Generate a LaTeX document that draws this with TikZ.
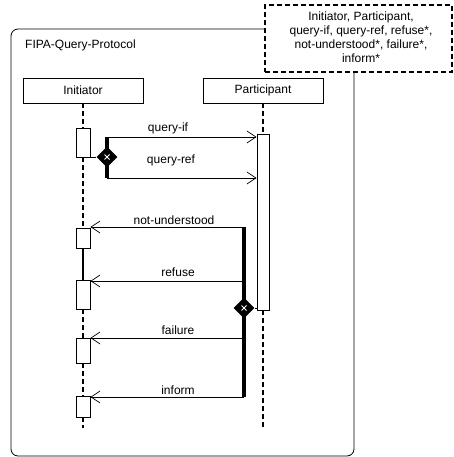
\documentclass[tikz,border=0pt]{standalone}
\usepackage{fontspec}
\setmainfont{Liberation Sans}
\usetikzlibrary{arrows.meta,shapes.geometric}
\begin{document}
\begin{tikzpicture}[x=1pt,y=-1pt,
  every node/.style={font=\fontsize{12}{14}\selectfont},
  lifebox/.style={draw,line width=0.8pt,minimum width=120pt,minimum height=25pt,inner sep=0pt},
  actbox/.style={draw,fill=white,line width=0.8pt,inner sep=0pt,minimum width=14pt},
  life/.style={line width=2pt,dash pattern=on 5pt off 3pt},
  solidlife/.style={line width=2pt},
  bar/.style={line width=3.5pt},
  msg/.style={line width=0.8pt,-{Straight Barb[length=9pt,width=12pt,line width=0.7pt]}},
  plain/.style={line width=0.8pt},
  lbl/.style={anchor=base,inner sep=0pt},
  choice/.style={diamond,fill=black,minimum size=21pt,inner sep=0pt},
  xmark/.style={white,line width=1pt},
]
\useasboundingbox (0,0) rectangle (453,457);

% frame
\draw[line width=0.8pt,rounded corners=7pt] (11,29) rectangle (354,456);
\node[anchor=base west,inner sep=0pt] (title) at (25,49) {FIPA-Query-Protocol};

% parameter box
\node[draw,fill=white,line width=1.5pt,dash pattern=on 5pt off 3pt,
      minimum width=187pt,minimum height=67pt,inner sep=0pt] (params) at (358.5,38.5) {};
\node[align=center,inner sep=0pt] (ptext) at (361,37)
  {Initiator, Participant,\\query-if, query-ref, refuse*,\\not-understood*, failure*,\\inform*};

% lifeline heads
\node[lifebox] (ini) at (83,90.5) {Initiator};
\node[lifebox] (par) at (263,90.5) {Participant};

% activation boxes
\node[actbox,minimum height=29pt] (a1) at (83,142.5) {};
\node[actbox,minimum height=20pt] (a2) at (83,238) {};
\node[actbox,minimum height=29pt] (a3) at (83,294.5) {};
\node[actbox,minimum height=25pt] (a4) at (83,350.5) {};
\node[actbox,minimum height=21pt] (a5) at (83,406.5) {};
\node[actbox,minimum width=12pt,minimum height=176pt] (p1) at (263,222) {};

% lifelines
\coordinate (iend) at (83,428);
\coordinate (pend) at (263,428);
\draw[life] (ini.south) -- (a1.north);
\draw[life] (a1.south) -- (a2.north);
\draw[solidlife] (a2.south) -- (a3.north);
\draw[life] (a3.south) -- (a4.north);
\draw[life] (a4.south) -- (a5.north);
\draw[life] (a5.south) -- (iend);
\draw[life] (par.south) -- (p1.north);
\draw[life] (p1.south) -- (pend);

% outgoing choice
\coordinate (b1top) at (107,137);
\coordinate (b1bot) at (107,178);
\draw[bar] (b1top) -- (b1bot);
\node[choice] (d1) at (107,157) {};
\draw[xmark] ([shift={(-2.5,-2.5)}]d1.center) -- ([shift={(2.5,2.5)}]d1.center);
\draw[xmark] ([shift={(-2.5,2.5)}]d1.center) -- ([shift={(2.5,-2.5)}]d1.center);
\draw[plain] (a1.east |- d1) -- (d1.west);
\draw[msg] (b1top) -- (b1top -| p1.west);
\draw[msg] (b1bot) -- (b1bot -| p1.west);
\node[lbl] (lqi) at (168,132) {query-if};
\node[lbl] (lqr) at (171,164) {query-ref};

% replies choice
\coordinate (r1) at (244,227);
\coordinate (r2) at (244,281);
\coordinate (r3) at (244,338);
\coordinate (r4) at (244,397);
\draw[bar] (r1) -- (r4);
\node[choice] (d2) at (244,308) {};
\draw[xmark] ([shift={(-2.5,-2.5)}]d2.center) -- ([shift={(2.5,2.5)}]d2.center);
\draw[xmark] ([shift={(-2.5,2.5)}]d2.center) -- ([shift={(2.5,-2.5)}]d2.center);
\draw[plain] (d2.east) -- (d2 -| p1.west);
\draw[msg] (r1) -- (r1 -| a2.east);
\draw[msg] (r2) -- (r2 -| a3.east);
\draw[msg] (r3) -- (r3 -| a4.east);
\draw[msg] (r4) -- (r4 -| a5.east);
\node[lbl] (lnu) at (174,224) {not-understood};
\node[lbl] (lre) at (178,276) {refuse};
\node[lbl] (lfa) at (178,334) {failure};
\node[lbl] (lin) at (178,394) {inform};
\end{tikzpicture}
\end{document}
